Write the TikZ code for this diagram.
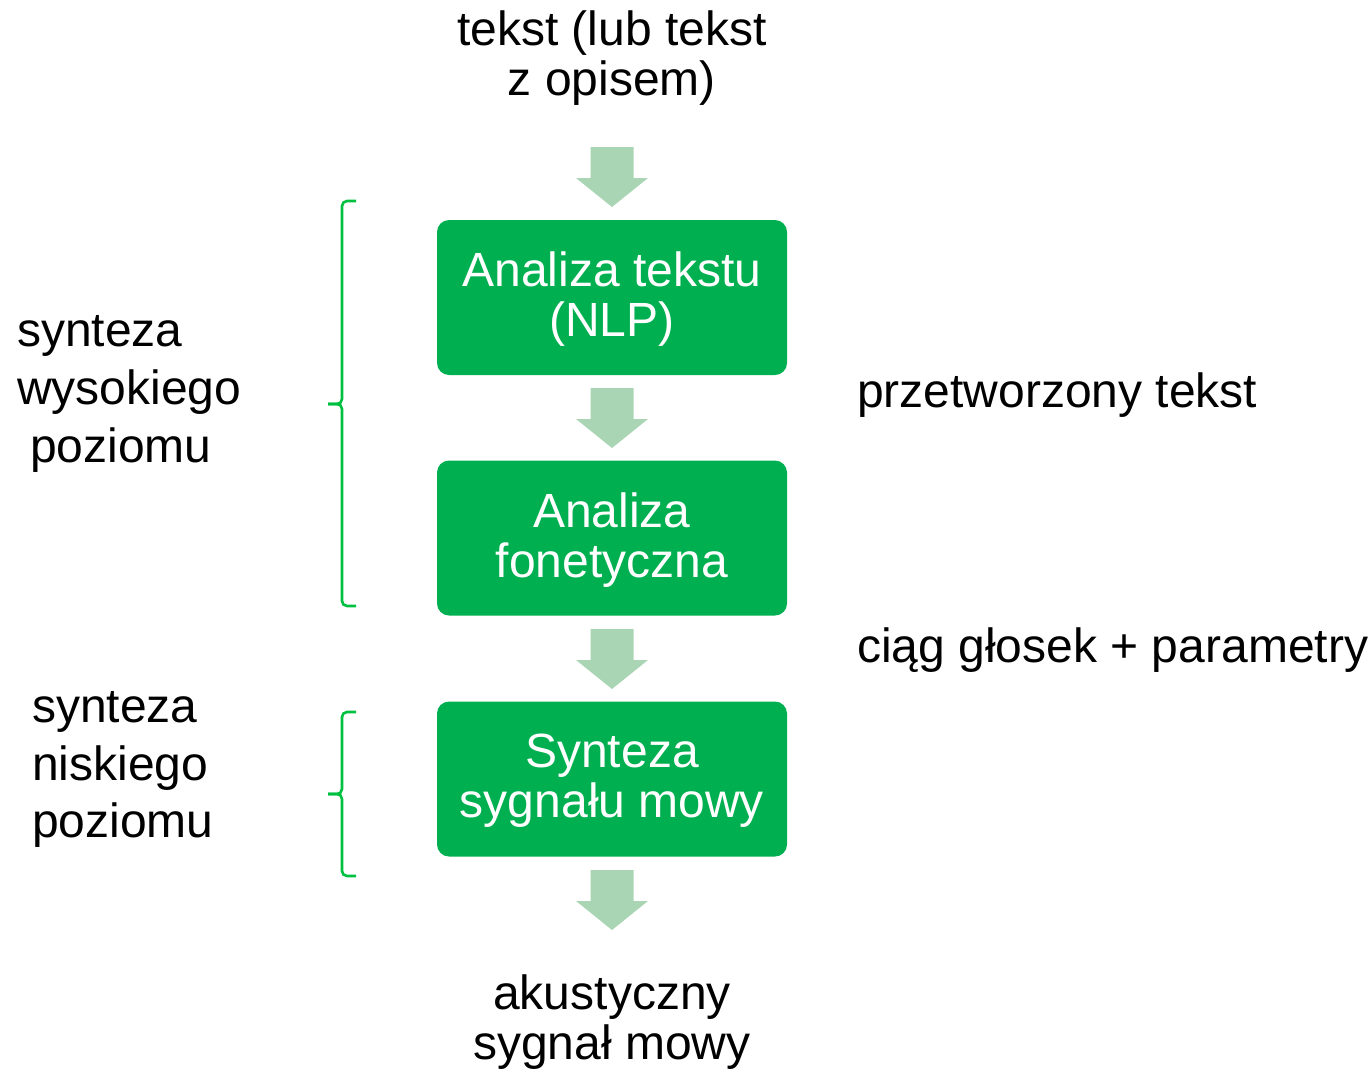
\documentclass[tikz,border=0pt]{standalone}
\usepackage{fontspec}
\setmainfont{Liberation Sans}
\definecolor{boxgreen}{HTML}{00B050}
\definecolor{arrowgreen}{HTML}{A9D5B5}
\definecolor{bracegreen}{HTML}{00C040}
\begin{document}
\begin{tikzpicture}[x=1pt,y=-1pt,
  txt/.style={font=\fontsize{48}{50}\selectfont, inner sep=0pt, align=center},
  sidetxt/.style={font=\fontsize{48}{50}\selectfont, inner sep=0pt, anchor=base west},
  stage/.style={fill=boxgreen, rounded corners=12pt, minimum width=350pt, minimum height=155pt,
    text=white, font=\fontsize{48}{50}\selectfont, align=center, inner sep=0pt},
  brace/.style={draw=bracegreen, line width=2.6pt, rounded corners=5pt},
  flow/.pic={\fill[arrowgreen] (-21.5,0) -- (21.5,0) -- (21.5,31) -- (36,31) -- (0,60)
     -- (-36,31) -- (-21.5,31) -- cycle;}]
\useasboundingbox (0,0) rectangle (1370,1068);

% input and output
\node[txt] (input) at (612,58) {tekst (lub tekst\\z opisem)};
\node[txt] (output) at (612,1022) {akustyczny\\sygnał mowy};

% processing stages
\node[stage] (nlp) at (612,297.5) {};
\node[txt, text=white] at (612,299) {Analiza tekstu\\(NLP)};
\node[stage] (phon) at (612,538) {};
\node[txt, text=white] at (612,540) {Analiza\\fonetyczna};
\node[stage] (synth) at (612,779) {};
\node[txt, text=white] at (612,781) {Synteza\\sygnału mowy};

% block arrows between stages
\pic at (612,147) {flow};
\pic at (612,388) {flow};
\pic at (612,629) {flow};
\pic at (612,870) {flow};

% intermediate representations
\node[sidetxt] (proc) at (857,407) {przetworzony tekst};
\node[sidetxt] (phones) at (857,662) {ciąg głosek + parametry};

% high-level synthesis brace
\coordinate (hiTop) at (356,201);
\coordinate (hiMid) at (328,404);
\coordinate (hiBot) at (356,606);
\draw[brace] (hiTop) -- (342,201) -- (342,404) -- (hiMid);
\draw[brace] (hiMid) -- (342,404) -- (342,606) -- (hiBot);
\node[sidetxt] (hi1) at (17,346) {synteza};
\node[sidetxt] (hi2) at (17,404) {wysokiego};
\node[sidetxt] (hi3) at (30,462) {poziomu};

% low-level synthesis brace
\coordinate (loTop) at (356,712);
\coordinate (loMid) at (328,794);
\coordinate (loBot) at (356,876);
\draw[brace] (loTop) -- (342,712) -- (342,794) -- (loMid);
\draw[brace] (loMid) -- (342,794) -- (342,876) -- (loBot);
\node[sidetxt] (lo1) at (32,722) {synteza};
\node[sidetxt] (lo2) at (32,780) {niskiego};
\node[sidetxt] (lo3) at (32,837) {poziomu};
\end{tikzpicture}
\end{document}
